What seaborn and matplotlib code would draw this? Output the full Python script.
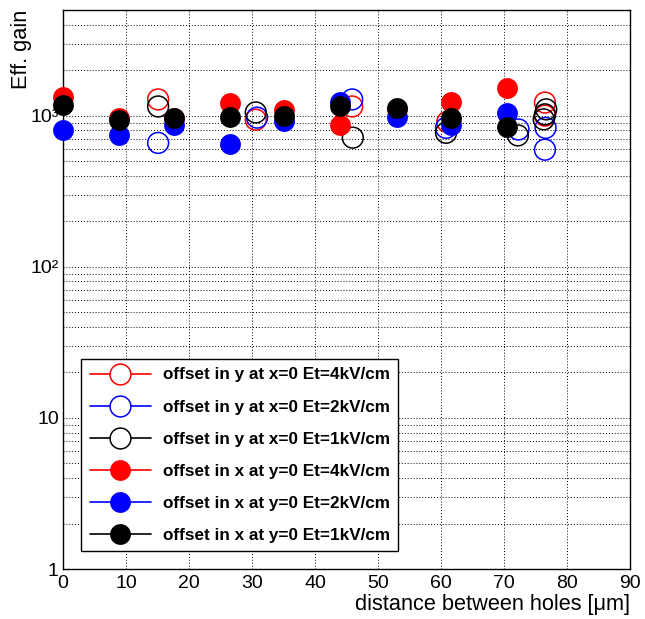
import matplotlib
matplotlib.use("Agg")
import matplotlib.pyplot as plt
import seaborn as sns
import pandas as pd
import numpy as np
from matplotlib.lines import Line2D
from matplotlib.ticker import FixedLocator, FixedFormatter, MultipleLocator, NullFormatter

# ---- data ----
oy4_x = [15.1, 30.6, 45.9, 61.0, 76.5, 76.5]
oy4_y = [1280, 940, 1150, 910, 1220, 1000]
oy2_x = [15.1, 30.8, 45.9, 60.8, 72.3, 76.6, 76.5]
oy2_y = [660, 970, 1280, 830, 810, 830, 595]
oy1_x = [15.1, 30.6, 46.0, 60.8, 72.2, 76.7, 76.5, 76.3]
oy1_y = [1150, 1050, 715, 770, 740, 1100, 1020, 945]

fx_x = [0.0, 8.9, 17.6, 26.5, 35.1, 44.0, 53.0, 61.6, 70.5]
fx4_y = [1336, 970, 960, 1220, 1090, 870, 1110, 1240, 1530]
fx2_y = [800, 750, 870, 650, 920, 1240, 985, 870, 1045]
fx1_y = [1180, 940, 970, 985, 990, 1160, 1130, 970, 845]

labels = [
    "offset in y at x=0 Et=4kV/cm",
    "offset in y at x=0 Et=2kV/cm",
    "offset in y at x=0 Et=1kV/cm",
    "offset in x at y=0 Et=4kV/cm",
    "offset in x at y=0 Et=2kV/cm",
    "offset in x at y=0 Et=1kV/cm",
]
colors = ["#ff0000", "#0000ff", "#000000", "#ff0000", "#0000ff", "#000000"]
filled = [False, False, False, True, True, True]
series = [
    (oy4_x, oy4_y), (oy2_x, oy2_y), (oy1_x, oy1_y),
    (fx_x, fx4_y), (fx_x, fx2_y), (fx_x, fx1_y),
]

sns.set_style("white")
plt.rcParams["font.family"] = ["Liberation Sans", "DejaVu Sans"]
plt.rcParams["text.color"] = "black"
plt.rcParams["axes.labelcolor"] = "black"
plt.rcParams["xtick.color"] = "black"
plt.rcParams["ytick.color"] = "black"

fig = plt.figure(figsize=(6.45, 6.19), dpi=100)
ax = fig.add_axes([63 / 645, 1 - 569 / 619, (630 - 63) / 645, (569 - 10) / 619])

msize = 15.0  # points
for (xs, ys), lab, c, f in zip(series, labels, colors, filled):
    df = pd.DataFrame({"x": xs, "y": ys})
    if f:
        sns.scatterplot(data=df, x="x", y="y", ax=ax, marker="o", s=msize ** 2,
                        color=c, edgecolor=c, linewidth=0, zorder=3, legend=False,
                        clip_on=False)
    else:
        sns.scatterplot(data=df, x="x", y="y", ax=ax, marker="o", s=msize ** 2,
                        facecolor="none", edgecolor=c, linewidth=1.1, zorder=3,
                        legend=False, clip_on=False)

ax.set_yscale("log")
ax.set_xlim(0, 90)
ax.set_ylim(1, 5000)

# ticks
ax.xaxis.set_major_locator(MultipleLocator(10))
ax.xaxis.set_minor_locator(MultipleLocator(2))
ax.yaxis.set_major_locator(FixedLocator([1, 10, 100, 1000]))
ax.yaxis.set_major_formatter(FixedFormatter(["1", "10", "10²", "10³"]))
minors = [m * 10 ** e for e in range(0, 4) for m in range(2, 10) if m * 10 ** e <= 5000]
ax.yaxis.set_minor_locator(FixedLocator(minors))
ax.yaxis.set_minor_formatter(NullFormatter())
ax.tick_params(axis="both", which="major", direction="in", length=12, width=1,
               labelsize=14, color="black", labelcolor="black")
ax.tick_params(axis="both", which="minor", direction="in", length=6, width=1,
               color="black")
ax.tick_params(axis="x", which="major", pad=4)
ax.tick_params(axis="y", which="major", pad=3)

# grid
gkw = dict(color="black", linestyle=(0, (1, 2)), linewidth=0.7)
for xv in range(10, 90, 10):
    ax.axvline(xv, zorder=1, **gkw)
for yv in [10, 100, 1000] + minors:
    ax.axhline(yv, zorder=1, **gkw)

for s in ax.spines.values():
    s.set_color("black")
    s.set_linewidth(1)
    s.set_visible(True)

ax.set_xlabel("distance between holes [μm]", loc="right", fontsize=15.7, labelpad=2,
              color="black")
ax.set_ylabel("Eff. gain", loc="top", fontsize=15.7, color="black")
ax.yaxis.set_label_coords(-31 / 567, 1.0)

# legend
handles = []
for c, f in zip(colors, filled):
    handles.append(Line2D([0], [0], color=c, linewidth=1.2, marker="o",
                          markersize=msize,
                          markerfacecolor=c if f else "white",
                          markeredgecolor=c,
                          markeredgewidth=0 if f else 1.1))
leg = ax.legend(handles, labels, loc="upper left",
                bbox_to_anchor=(18 / 567, 210 / 559, 317 / 567, 0.0001), mode="expand",
                prop={"family": "Liberation Sans", "weight": "bold", "size": 12.3},
                frameon=True, fancybox=False, framealpha=1, edgecolor="black",
                handlelength=3.6, handletextpad=0.7, labelspacing=1.0,
                borderpad=0.5, borderaxespad=0, labelcolor="black")
leg.get_frame().set_linewidth(1)
leg.set_zorder(5)

fig.savefig("out.png", dpi=100)
